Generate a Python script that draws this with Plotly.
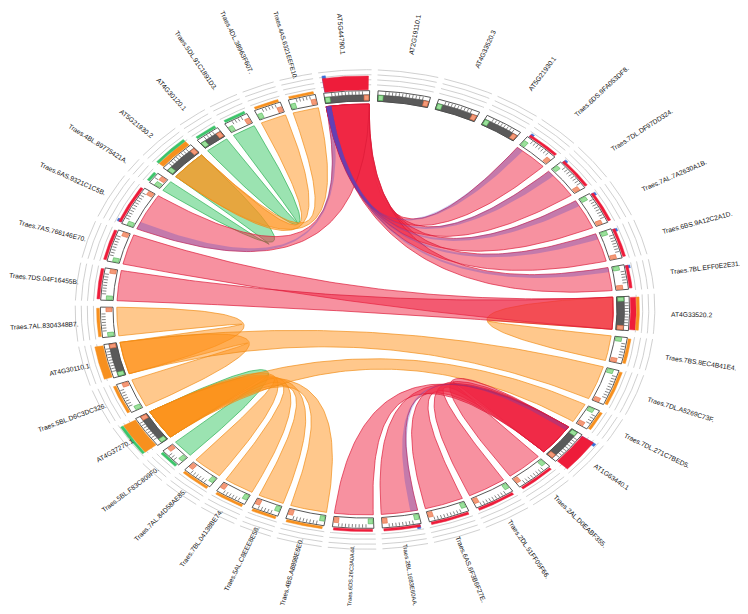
import numpy as np
import plotly.graph_objects as go

# ---------------- data ----------------
genes = ["AT5G44790.1", "AT2G19110.1", "AT4G33520.3", "AT5G21930.1",
         "Traes.6DS.9FA053DF8.", "Traes.7DL.DF97DD324.", "Traes.7AL.7A2630A1B.",
         "Traes.6BS.9A12C2A1D.", "Traes.7BL.EFF0E2E31.", "AT4G33520.2",
         "Traes.7BS.8EC4B41E4.", "Traes.7DL.A5269C73F.", "Traes.7DL.271C7BED5.",
         "AT1G63440.1", "Traes.2AL.D0EABF355.", "Traes.2DL.51FF05F66.",
         "Traes.6AS.6F3B6F27E.", "Traes.2BL.1683E60AA.", "Traes.6DS.26C3A0A44.",
         "Traes.4BS.A8898E6E0.", "Traes.5AL.C8EEE8E58.", "Traes.7BL.04138BE74.",
         "Traes.7AL.84D58AE85.", "Traes.5BL.F83C809F0.", "AT4G37270.1",
         "Traes.5BL.D6C3DC326.", "AT4G30110.1", "Traes.7AL.8304348B7.",
         "Traes.7DS.04F16455B.", "Traes.7AS.766146E70.", "Traes.6AS.9321C1C5B.",
         "Traes.4BL.89775421A.", "AT5G21930.2", "AT4G30120.1",
         "Traes.5DL.91C1891D3.", "Traes.4DL.38963F607.", "Traes.4AS.6321EEFE10."]
gene_lengths = [10, 11.5, 9.5, 8.5, 8, 8.5, 8.5, 8, 6.5, 9, 7, 9.5, 5.5, 9, 8.5, 9, 9,
                8.5, 9, 8.5, 6, 7, 7, 5, 8.5, 8, 9, 8, 8.5, 8.5, 10.5, 3, 8.5, 5.5,
                5.5, 6, 6]

link_traes = ["Traes.6DS.9FA053DF8.", "Traes.7DL.DF97DD324.", "Traes.7AL.7A2630A1B.",
              "Traes.6BS.9A12C2A1D.", "Traes.7BL.EFF0E2E31.", "Traes.6AS.9321C1C5B.",
              "Traes.7AS.766146E70.", "Traes.7DS.04F16455B.", "Traes.7BS.8EC4B41E4.",
              "Traes.2AL.D0EABF355.", "Traes.2DL.51FF05F66.", "Traes.6AS.6F3B6F27E.",
              "Traes.2BL.1683E60AA.", "Traes.6DS.26C3A0A44.",
              "Traes.4BS.A8898E6E0.", "Traes.5AL.C8EEE8E58.", "Traes.7BL.04138BE74.",
              "Traes.7AL.84D58AE85.", "Traes.7DL.271C7BED5.", "Traes.5BL.F83C809F0.",
              "Traes.7AL.8304348B7.", "Traes.5BL.D6C3DC326.", "Traes.7DL.A5269C73F.",
              "Traes.4AS.6321EEFE10.", "Traes.4DL.38963F607.", "Traes.4BL.89775421A.",
              "Traes.5DL.91C1891D3."]
link_at = ["AT5G44790.1"] * 6 + ["AT4G33520.2"] * 3 + ["AT1G63440.1"] * 5 + \
          ["AT4G37270.1"] * 6 + ["AT4G30110.1"] * 3 + ["AT5G21930.2"] * 3 + ["AT4G30120.1"]
link_type = ["red"] * 8 + ["orange"] + ["red"] * 5 + ["orange"] * 5 + ["green"] + \
            ["orange"] * 5 + ["green", "green"]

# short partial (blue) matches inside some of the red links
blue_traes = ["Traes.6DS.9FA053DF8.", "Traes.7DL.DF97DD324.", "Traes.7AL.7A2630A1B.",
              "Traes.6BS.9A12C2A1D.", "Traes.7BL.EFF0E2E31.", "Traes.6AS.9321C1C5B.",
              "Traes.2BL.1683E60AA."]
blue_at = ["AT5G44790.1"] * 6 + ["AT1G63440.1"]

# ---------------- styles ----------------
W, H = 748, 614
OFF = 8.0  # page body margin
CX, CY, RX, RY = 365.0 - OFF, 309.5 - OFF, 252.0, 208.5
XR = [-CX / RX, (W - CX) / RX]
YR = [-(H - CY) / RY, CY / RY]
START = -9.0
FILL = {"red": "rgba(240,35,65,0.50)", "orange": "rgba(255,145,25,0.50)",
        "green": "rgba(55,200,100,0.50)", "blue": "rgba(80,70,200,0.30)"}
EDGE = {"red": "rgba(220,25,55,0.85)", "orange": "rgba(240,140,20,0.85)",
        "green": "rgba(40,175,80,0.85)", "blue": "rgba(80,70,200,0.0)"}
BAR = {"red": "#ee1c3a", "orange": "#f7901e", "green": "#3cc46a"}
DRAW_ORDER = ["green", "orange", "red"]

n = len(genes)
gap = (360.0 - sum(gene_lengths)) / n
starts, ends = {}, {}
a = START
for g, L in zip(genes, gene_lengths):
    starts[g] = a
    ends[g] = a + L
    a += L + gap


def arc(t1, t2, r, npts=None):
    if npts is None:
        npts = max(int(abs(t2 - t1) * 3) + 2, 4)
    th = np.radians(np.linspace(t1, t2, npts))
    return r * np.sin(th), r * np.cos(th)


def pt(t, r):
    th = np.radians(t)
    return np.array([r * np.sin(th), r * np.cos(th)])


def bez(p0, p2, npts=80):
    t = np.linspace(0, 1, npts)[:, None]
    c = np.zeros(2)
    p = (1 - t) ** 2 * p0 + 2 * (1 - t) * t * c + t ** 2 * p2
    return p[:, 0], p[:, 1]


def sector(t1, t2, r0, r1):
    xo, yo = arc(t1, t2, r1)
    xi, yi = arc(t2, t1, r0)
    return list(xo) + list(xi) + [xo[0]], list(yo) + list(yi) + [yo[0]]


RIN = 0.985


def ribbon(a1, a2, b1, b2, ty):
    xs, ys = [], []
    x, y = arc(a1, a2, RIN); xs += list(x); ys += list(y)
    x, y = bez(pt(a2, RIN), pt(b1, RIN)); xs += list(x); ys += list(y)
    x, y = arc(b1, b2, RIN); xs += list(x); ys += list(y)
    x, y = bez(pt(b2, RIN), pt(a1, RIN)); xs += list(x); ys += list(y)
    fig.add_trace(go.Scatter(x=xs, y=ys, mode="lines", fill="toself",
                             fillcolor=FILL[ty], line=dict(color=EDGE[ty], width=0.8),
                             hoverinfo="skip", showlegend=False))


fig = go.Figure()

# ---------------- ribbons ----------------
for col in DRAW_ORDER:
    for tr, at, ty in zip(link_traes, link_at, link_type):
        if ty == col:
            ribbon(starts[tr], ends[tr], starts[at], ends[at], ty)
BF_T, BF_A = 0.2, 0.12
for tr, at in zip(blue_traes, blue_at):
    Lt = ends[tr] - starts[tr]
    La = ends[at] - starts[at]
    ribbon(starts[tr], starts[tr] + BF_T * Lt, starts[at], starts[at] + BF_A * La, "blue")

# ---------------- segments ----------------
def add_poly_group(polys, fill, line, lw):
    xs, ys = [], []
    for px, py in polys:
        xs += px + [None]
        ys += py + [None]
    fig.add_trace(go.Scatter(x=xs, y=ys, mode="lines", fill="toself", fillcolor=fill,
                             line=dict(color=line, width=lw), hoverinfo="skip",
                             showlegend=False))


R0, R1, RD, RT = 1.0, 1.05, 1.03, 1.046
SQ = 1.2
white_boxes, dark_boxes, greens, salmons = [], [], [], []
tick_x, tick_y, grey_x, grey_y = [], [], [], []
bars = {"red": [], "orange": [], "green": []}
blue_bars = []
for g in genes:
    s, e = starts[g], ends[g]
    white_boxes.append(sector(s, e, R0, R1))
    if g.startswith("AT"):
        dark_boxes.append(sector(s, e, R0, RD))
    greens.append(sector(s + 0.15, s + SQ, R0 + 0.004, RD - 0.002))
    salmons.append(sector(e - SQ, e - 0.15, R0 + 0.004, RD - 0.002))
    for t in np.arange(s + SQ + 0.5, e - SQ, 0.75):
        p, q = pt(t, RD), pt(t, RT)
        tick_x += [p[0], q[0], None]
        tick_y += [p[1], q[1], None]
    for rg in (1.078, 1.102, 1.126, 1.15):
        x, y = arc(s - 0.3, e + 0.3, rg)
        grey_x += list(x) + [None]
        grey_y += list(y) + [None]
    r = 1.054
    for col in ("red", "orange", "green"):
        cnt = sum(1 for tr, at, ty in zip(link_traes, link_at, link_type)
                  if ty == col and g in (tr, at))
        if cnt:
            th = 0.011 * cnt if g.startswith("AT") else 0.011
            bars[col].append(sector(s + 0.3, e - 0.3, r, r + th))
            if col == "red" and (g in blue_traes or g in blue_at):
                bh = 0.018 if g.startswith("Traes") else th + 0.012
                blue_bars.append(sector(s + 0.3, s + 1.0, r, r + bh))
            r += th + 0.002

fig.add_trace(go.Scatter(x=grey_x, y=grey_y, mode="lines",
                         line=dict(color="#c4c4c4", width=0.8), hoverinfo="skip",
                         showlegend=False))
add_poly_group(white_boxes, "white", "#444444", 0.9)
add_poly_group(dark_boxes, "#5a5a5a", "#444444", 0.6)
fig.add_trace(go.Scatter(x=tick_x, y=tick_y, mode="lines",
                         line=dict(color="#333333", width=0.6), hoverinfo="skip",
                         showlegend=False))
add_poly_group(greens, "#9be09b", "#4caf50", 0.6)
add_poly_group(salmons, "#f59a78", "#e06a40", 0.6)
add_poly_group(blue_bars, "#3a6fd8", "#3a6fd8", 0.5)
for col in ("red", "orange", "green"):
    if bars[col]:
        add_poly_group(bars[col], BAR[col], BAR[col], 0.5)

# ---------------- labels ----------------
FS0 = 6.7
CW = {".": 0.278, "r": 0.333, "s": 0.5, "a": 0.556, "e": 0.556, "1": 0.556}
UP = {"C": 0.722, "D": 0.722, "G": 0.778, "L": 0.556, "T": 0.611, "F": 0.611}


def text_w(s, fs):
    w = 0.0
    for ch in s:
        if ch.isdigit():
            w += 0.556
        elif ch in CW:
            w += CW[ch]
        elif ch.isupper():
            w += UP.get(ch, 0.667)
        else:
            w += 0.556
    return w * fs * 1.12


def fits(rl, L, dx, dy, ux, uy):
    ox = CX + OFF + rl * dx + ux * L
    oy = CY + OFF + rl * dy + uy * L
    return 4 < ox < W - 2 and 6 < oy < H - 4


for g in genes:
    tm = 0.5 * (starts[g] + ends[g])
    th = np.radians(tm)
    dx, dy = RX * np.sin(th), -RY * np.cos(th)
    nrm = np.hypot(dx, dy)
    ux, uy = dx / nrm, dy / nrm
    phi = np.degrees(np.arctan2(dy, dx))
    tm_n = tm % 360
    ang = phi if 0 < tm_n < 180 else phi + 180
    if ang > 180:
        ang -= 360
    rl = 1.165 + 0.04 * np.sin(th) + 0.05 * np.cos(th)
    fs = FS0
    L = text_w(g, fs)
    # keep the label inside the picture: first move it in, then shrink it
    while not fits(rl, L, dx, dy, ux, uy) and rl > 1.12:
        rl -= 0.005
    while not fits(rl, L, dx, dy, ux, uy) and fs > 5.0:
        fs -= 0.1
        L = text_w(g, fs)
    sx = CX + rl * dx + ux * L / 2
    sy = CY + rl * dy + uy * L / 2
    fig.add_annotation(x=(sx - CX) / RX, y=(CY - sy) / RY, xref="x", yref="y",
                       text=g, showarrow=False, textangle=ang,
                       xanchor="center", yanchor="middle",
                       font=dict(family="Liberation Sans", size=fs, color="#111111"))

fig.update_layout(width=W, height=H, margin=dict(l=0, r=0, t=0, b=0),
                  paper_bgcolor="white", plot_bgcolor="white", showlegend=False,
                  xaxis=dict(range=XR, visible=False, fixedrange=True),
                  yaxis=dict(range=YR, visible=False, fixedrange=True))
fig.write_html("out.html")
